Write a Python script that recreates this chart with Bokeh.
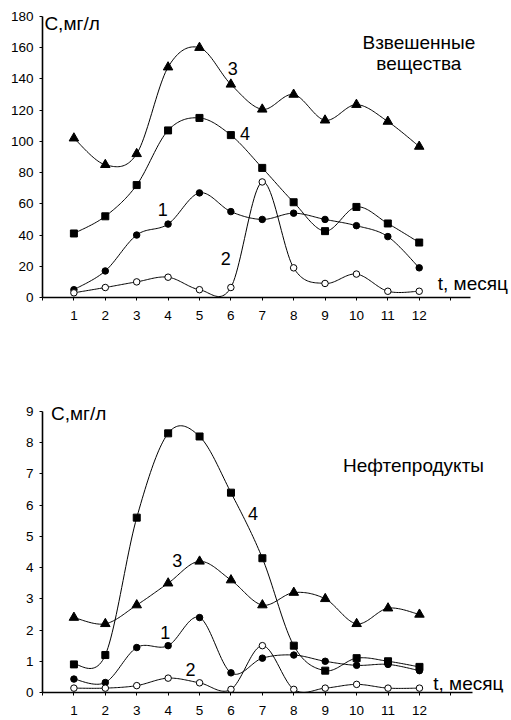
import numpy as np
from bokeh.plotting import figure
from bokeh.layouts import column
from bokeh.models import Range1d, FixedTicker, Label
from bokeh.embed import file_html
from bokeh.resources import INLINE

months = list(range(1, 13))
x_ticks = list(range(0, 14))

# Взвешенные вещества, мг/л
ss_1 = [5, 17, 40, 47, 67, 55, 50, 54, 50, 46, 39, 19]
ss_2 = [3, 6.4, 10, 13, 5, 6.4, 74, 19, 9, 15, 4, 4]
ss_3 = [102, 85, 92, 147.5, 160, 136.5, 120.5, 130, 113.5, 123.5, 112.7, 96.7]
ss_4 = [41, 52, 72, 107, 115, 104, 83, 61, 42.5, 58, 47.4, 35.2]
ss_yticks = [0, 20, 40, 60, 80, 100, 120, 140, 160, 180]

# Нефтепродукты, мг/л
oil_1 = [0.43, 0.32, 1.44, 1.5, 2.4, 0.63, 1.1, 1.2, 1.0, 0.87, 0.9, 0.7]
oil_2 = [0.14, 0.14, 0.22, 0.46, 0.31, 0.1, 1.5, 0.1, 0.14, 0.26, 0.14, 0.14]
oil_3 = [2.4, 2.2, 2.8, 3.5, 4.2, 3.6, 2.8, 3.2, 3.0, 2.2, 2.7, 2.5]
oil_4 = [0.9, 1.2, 5.6, 8.3, 8.2, 6.4, 4.3, 1.5, 0.7, 1.1, 1.0, 0.82]
oil_yticks = [0, 1, 2, 3, 4, 5, 6, 7, 8, 9]

FONT = "Liberation Sans"


def smooth(xs, ys, n=24):
    P = np.column_stack([xs, ys]).astype(float)
    E = np.vstack([P[0], P, P[-1]])
    t = np.linspace(0, 1, n)[:, None]
    out = []
    for i in range(len(P) - 1):
        p0, p1, p2, p3 = E[i], E[i + 1], E[i + 2], E[i + 3]
        c1 = p1 + (p2 - p0) / 6.0
        c2 = p2 - (p3 - p1) / 6.0
        seg = (1 - t) ** 3 * p1 + 3 * (1 - t) ** 2 * t * c1 + 3 * (1 - t) * t ** 2 * c2 + t ** 3 * p2
        out.append(seg if i == 0 else seg[1:])
    S = np.vstack(out)
    return S[:, 0], S[:, 1]


def make_fig(height, xr, yr, xbounds, ybounds, yticks, bbot, bleft, xstandoff):
    p = figure(width=511, height=height, x_range=Range1d(*xr), y_range=Range1d(*yr),
               output_backend="svg", toolbar_location=None,
               min_border_left=bleft, min_border_right=0,
               min_border_top=0, min_border_bottom=bbot)
    p.outline_line_color = None
    p.xgrid.grid_line_color = None
    p.ygrid.grid_line_color = None
    p.background_fill_color = "white"
    p.border_fill_color = "white"
    for ax in (p.xaxis[0], p.yaxis[0]):
        ax.axis_line_width = 1.6
        ax.axis_line_color = "black"
        ax.major_tick_line_color = "black"
        ax.major_tick_in = 0
        ax.major_tick_out = 3
        ax.minor_tick_line_color = None
        ax.major_label_text_font = FONT
        ax.major_label_text_font_size = "13.5px"
        ax.major_label_text_color = "black"
    p.xaxis[0].ticker = FixedTicker(ticks=x_ticks)
    p.xaxis[0].major_label_overrides = {0: "", 13: ""}
    p.xaxis[0].major_label_standoff = xstandoff
    p.xaxis[0].bounds = xbounds
    p.yaxis[0].ticker = FixedTicker(ticks=yticks)
    p.yaxis[0].major_label_standoff = 6
    p.yaxis[0].bounds = ybounds
    return p


def add_series(p, ys, kind):
    sx, sy = smooth(months, ys)
    p.line(sx, sy, line_color="black", line_width=1)
    if kind == "circle_filled":
        p.scatter(months, ys, marker="circle", size=6.5, fill_color="black", line_color="black")
    elif kind == "circle_open":
        p.scatter(months, ys, marker="circle", size=6.5, fill_color="white", line_color="black", line_width=1)
    elif kind == "triangle":
        p.scatter(months, ys, marker="triangle", size=9.5, fill_color="black", line_color="black")
    else:
        p.scatter(months, ys, marker="square", size=7, fill_color="black", line_color="black")


def lab(p, x, y, text, size="18px", align="center", baseline="middle"):
    p.add_layout(Label(x=x, y=y, text=text, text_font=FONT, text_font_size=size,
                       text_color="black", text_align=align, text_baseline=baseline))


# --- top chart ---
p1 = make_fig(327, (0, 14.94), (0, 190.2), (0, 13.63), (0, 180), ss_yticks, 30, 42, 10)
add_series(p1, ss_3, "triangle")
add_series(p1, ss_4, "square")
add_series(p1, ss_1, "circle_filled")
add_series(p1, ss_2, "circle_open")
lab(p1, 0.06, 175.5, "С,мг/л", size="19px", align="left")
lab(p1, 11.99, 163.4, "Взвешенные", size="19px")
lab(p1, 11.99, 150.0, "вещества", size="19px")
lab(p1, 6.06, 146.7, "3")
lab(p1, 6.45, 105, "4")
lab(p1, 3.83, 56.4, "1")
lab(p1, 5.84, 25, "2")
lab(p1, 12.59, 9, "t, месяц", size="19px", align="left")

# --- bottom chart ---
p2 = make_fig(393, (0, 14.93), (0, 11.69), (0, 13.7), (0, 9), oil_yticks, 28, 40, 10)
add_series(p2, oil_3, "triangle")
add_series(p2, oil_4, "square")
add_series(p2, oil_1, "circle_filled")
add_series(p2, oil_2, "circle_open")
lab(p2, 0.27, 8.94, "С,мг/л", size="19px", align="left")
lab(p2, 11.81, 7.27, "Нефтепродукты", size="19px")
lab(p2, 6.7, 5.73, "4")
lab(p2, 4.29, 4.23, "3")
lab(p2, 3.91, 1.92, "1")
lab(p2, 4.71, 0.74, "2")
lab(p2, 12.44, 0.29, "t, месяц", size="19px", align="left")

layout = column(p1, p2, spacing=0)
open("out.html", "w").write(file_html(layout, INLINE))
